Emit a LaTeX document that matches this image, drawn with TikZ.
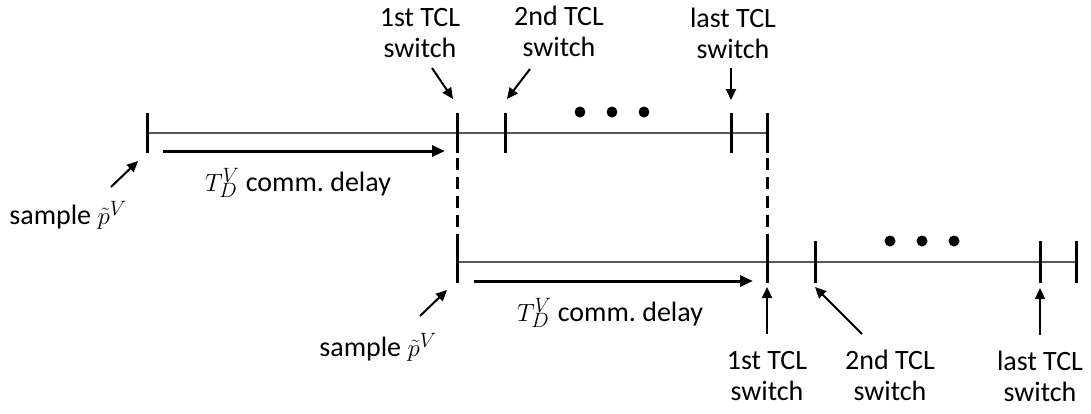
\documentclass[tikz,border=0pt]{standalone}
\usepackage{fontspec}
\setmainfont{Carlito}
\usetikzlibrary{arrows.meta}
\begin{document}
\begin{tikzpicture}[x=1pt,y=-1pt,
  tl/.style={line width=1.3pt, draw=black!65},
  tk/.style={line width=3pt},
  dly/.style={line width=3pt, -{Triangle[length=13pt,width=11pt]}},
  lab/.style={font=\fontsize{28}{31}\selectfont, align=center, inner sep=0pt},
  ptr/.style={line width=2pt, -{Triangle[length=11pt,width=10pt]}},
  dsh/.style={line width=3pt, dash pattern=on 12pt off 7pt, dash phase=12pt},
  dotn/.style={circle, fill=black, inner sep=0pt, minimum size=11pt}
]
\useasboundingbox (0,0) rectangle (1091,413);
% tick positions
\coordinate (t0) at (147,133);
\coordinate (t1) at (457,133);
\coordinate (t2) at (505,133);
\coordinate (t3) at (731,133);
\coordinate (t4) at (767,133);
\coordinate (b0) at (457,262);
\coordinate (b1) at (767,262);
\coordinate (b2) at (815,262);
\coordinate (b3) at (1040,262);
\coordinate (b4) at (1076,262);
% timelines
\draw[tl] (t0) -- (t4);
\draw[tl] (b0) -- (b4);
\foreach \p in {t0,t1,t2,t3,t4}{\draw[tk] ([yshift=-20pt]\p) -- ([yshift=20pt]\p);}
\foreach \p in {b0,b1,b2,b3,b4}{\draw[tk] ([yshift=-21pt]\p) -- ([yshift=21pt]\p);}
% dashed connections
\draw[dsh] ([yshift=20pt]t1) -- ([yshift=-21pt]b0);
\draw[dsh] ([yshift=20pt]t4) -- ([yshift=-21pt]b1);
% dots
\node[dotn] (d1) at (580,112) {};
\node[dotn] (d2) at (612,112) {};
\node[dotn] (d3) at (644,112) {};
\node[dotn] (d4) at (890,241) {};
\node[dotn] (d5) at (922,241) {};
\node[dotn] (d6) at (954,241) {};
% delay arrows
\coordinate (da1) at (163,151);
\coordinate (da2) at (445,151);
\coordinate (db1) at (474,281);
\coordinate (db2) at (753,281);
\draw[dly] (da1) -- (da2);
\draw[dly] (db1) -- (db2);
\node[lab] (delay1) at (298,183) {$T_D^V$ comm.\ delay};
\node[lab] (delay2) at (610,313) {$T_D^V$ comm.\ delay};
% top labels
\node[lab] (samp1) at (68,215) {sample $\tilde{p}^V$};
\node[lab] (s1) at (420,33) {1st TCL\\switch};
\node[lab] (s2) at (559,31) {2nd TCL\\switch};
\node[lab] (s3) at (733,33) {last TCL\\switch};
\coordinate (a1s) at (111,187); \coordinate (a1e) at (138,161);
\coordinate (a2s) at (432,68);  \coordinate (a2e) at (453,99);
\coordinate (a3s) at (530,69);  \coordinate (a3e) at (507,99);
\coordinate (a4s) at (731,68);  \coordinate (a4e) at (731,100);
\draw[ptr] (a1s) -- (a1e);
\draw[ptr] (a2s) -- (a2e);
\draw[ptr] (a3s) -- (a3e);
\draw[ptr] (a4s) -- (a4e);
% bottom labels
\node[lab] (samp2) at (378,347) {sample $\tilde{p}^V$};
\node[lab] (s4) at (767,376) {1st TCL\\switch};
\node[lab] (s5) at (890,375) {2nd TCL\\switch};
\node[lab] (s6) at (1040,376) {last TCL\\switch};
\coordinate (c1s) at (420,316); \coordinate (c1e) at (447,290);
\coordinate (c2s) at (767,334); \coordinate (c2e) at (767,287);
\coordinate (c3s) at (862,334); \coordinate (c3e) at (815,287);
\coordinate (c4s) at (1040,335); \coordinate (c4e) at (1040,288);
\draw[ptr] (c1s) -- (c1e);
\draw[ptr] (c2s) -- (c2e);
\draw[ptr] (c3s) -- (c3e);
\draw[ptr] (c4s) -- (c4e);
\end{tikzpicture}
\end{document}
